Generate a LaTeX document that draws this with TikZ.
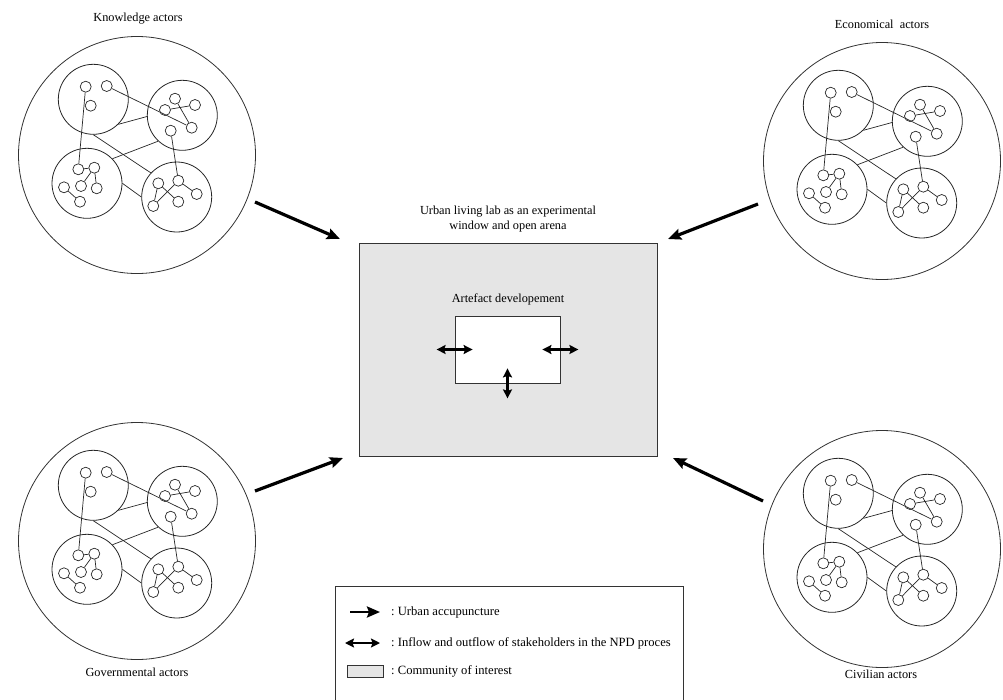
\documentclass[tikz,border=0pt]{standalone}
\usepackage{fontspec}
\setmainfont{Liberation Serif}
\usepackage{tikz}
\usetikzlibrary{arrows.meta,positioning}

% one cluster of actor groups, #1 = name, #2 = centre
\newcommand{\actornet}[2]{%
\begin{scope}[shift={#2}]
\node[ring] (#1) at (0,0) {};
\node[group] (#1A) at (-43.7,-55.7) {};
\node[group] (#1B) at (45.3,-39.7) {};
\node[group] (#1C) at (-50,28.3) {};
\node[group] (#1D) at (39.7,42) {};
\node[actor] (#1a1) at (-51.3,-68.3) {};
\node[actor] (#1a2) at (-30.3,-69) {};
\node[actor] (#1a3) at (-46.3,-49.3) {};
\node[actor] (#1b1) at (38,-56.3) {};
\node[actor] (#1b2) at (28,-45) {};
\node[actor] (#1b3) at (58,-50) {};
\node[actor] (#1b4) at (54.7,-27.3) {};
\node[actor] (#1b5) at (33.7,-24.3) {};
\node[actor] (#1c1) at (-58.7,14.3) {};
\node[actor] (#1c2) at (-42.7,12.7) {};
\node[actor] (#1c3) at (-56,31) {};
\node[actor] (#1c4) at (-40.3,33.3) {};
\node[actor] (#1c5) at (-73,32.3) {};
\node[actor] (#1c6) at (-57,46.7) {};
\node[actor] (#1d1) at (21.3,28.3) {};
\node[actor] (#1d2) at (41.3,25.7) {};
\node[actor] (#1d3) at (59.7,39) {};
\node[actor] (#1d4) at (41.3,46.7) {};
\node[actor] (#1d5) at (16.3,51) {};
\path[link]
	(#1a1) edge (#1c1)
	(#1a2) edge (#1b4)
	(#1b2) edge (#1b3)
	(#1b1) edge (#1b4)
	(#1b5) edge (#1d2)
	(#1c1) edge (#1c2)
	(#1c2) edge (#1c3)
	(#1c2) edge (#1c4)
	(#1c5) edge (#1c6)
	(#1d1) edge (#1d5)
	(#1d5) edge (#1d2)
	(#1d2) edge (#1d3)
	(#1d1) edge (#1d4)
	(#1A.-45) edge (#1B.182)
	(#1B.227) edge (#1C.44)
	(#1A.270) edge (#1D.137)
	(#1C.0) edge (#1D.180)
	;
\end{scope}}

\begin{document}
\begin{tikzpicture}[x=1pt,y=-1pt,
  font=\fontsize{12.3}{15}\selectfont,
  ring/.style={circle, draw=black!80, line width=0.8pt, minimum size=237pt, inner sep=0pt},
  group/.style={circle, draw=black!85, line width=0.8pt, minimum size=70pt, inner sep=0pt},
  actor/.style={circle, draw=black!85, line width=0.7pt, minimum size=11pt, inner sep=0pt},
  link/.style={draw=black!85, line width=0.7pt},
  push/.style={-{Stealth[length=13pt,width=11pt,inset=2pt]}, line width=3.2pt},
  swap/.style={{Stealth[length=9pt,width=9pt,inset=1.5pt]}-{Stealth[length=9pt,width=9pt,inset=1.5pt]}, line width=2.6pt},
  label/.style={inner sep=2pt},
  keytext/.style={inner sep=2pt, anchor=west, font=\fontsize{12.6}{15}\selectfont}]

\useasboundingbox (0,0) rectangle (1003,699);

\actornet{kn}{(137,155)}
\actornet{ec}{(882,161)}
\actornet{go}{(137,541)}
\actornet{ci}{(882,549)}

\node[label] (knName) at (138,19) {Knowledge actors};
\node[label] (ecName) at (882,24) {Economical\ \ actors};
\node[label] (goName) at (137,672) {Governmental actors};
\node[label] (ciName) at (881,674) {Civilian actors};

% urban living lab
\node[draw=black!80, fill=black!10, line width=0.8pt, minimum width=298pt, minimum height=213pt, inner sep=0pt] (lab) at (508,349.5) {};
\node[label, align=center] (labName) at (508,219.5) {Urban living lab as an experimental\\window and open arena};
\node[draw=black!80, fill=white, line width=0.8pt, minimum width=105pt, minimum height=67pt, inner sep=0pt] (art) at (507.5,349.5) {};
\node[label] (artName) at (508,299) {Artefact developement};

\draw[swap] ([xshift=-18pt]art.west) -- ([xshift=18pt]art.west);
\draw[swap] ([xshift=-18pt]art.east) -- ([xshift=18pt]art.east);
\draw[swap] ([yshift=15pt]art.south) -- ([yshift=-15pt]art.south);

% urban accupuncture
\coordinate (knOut) at (255,202);
\coordinate (knIn) at (340,239);
\coordinate (ecOut) at (758,204);
\coordinate (ecIn) at (668,239);
\coordinate (goOut) at (255,491);
\coordinate (goIn) at (343,458);
\coordinate (ciOut) at (763,501);
\coordinate (ciIn) at (673,458);
\draw[push] (knOut) -- (knIn);
\draw[push] (ecOut) -- (ecIn);
\draw[push] (goOut) -- (goIn);
\draw[push] (ciOut) -- (ciIn);

% legend
\draw[draw=black!80, line width=0.8pt] (335,586) rectangle (683,703);
\coordinate (k1a) at (350,612);
\coordinate (k1b) at (380,612);
\coordinate (k2a) at (345,643);
\coordinate (k2b) at (380,643);
\draw[push, line width=2.6pt] (k1a) -- (k1b);
\draw[swap] (k2a) -- (k2b);
\node[draw=black!80, fill=black!10, line width=0.8pt, minimum width=36pt, minimum height=12pt, inner sep=0pt] (k3) at (365,671) {};
\node[keytext] (k1Text) at (389,612) {:\ Urban accupuncture};
\node[keytext] (k2Text) at (389,643) {:\ Inflow and outflow of stakeholders in the NPD proces};
\node[keytext] (k3Text) at (389,671) {:\ Community of interest};

\end{tikzpicture}
\end{document}
